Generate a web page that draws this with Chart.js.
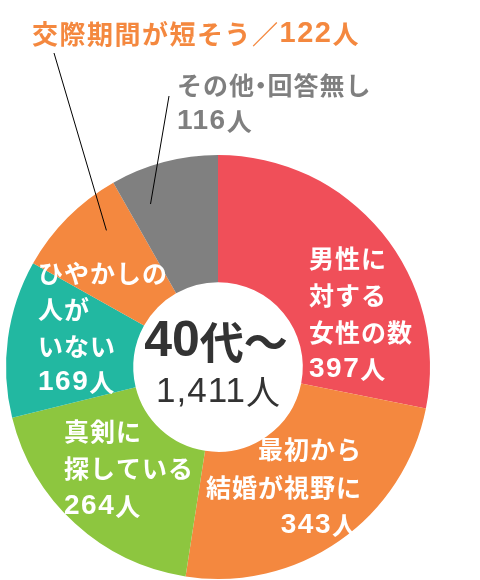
<!DOCTYPE html>
<html lang="ja">
<head>
<meta charset="utf-8">
<title>40代〜 1,411人</title>
<script src="https://cdn.jsdelivr.net/npm/chart.js@4/dist/chart.umd.min.js"></script>
<style>
  html, body { margin: 0; padding: 0; background: #fff; }
  #wrap { position: relative; width: 480px; height: 580px; }
</style>
</head>
<body>
<div id="wrap"><canvas id="c" width="480" height="580"></canvas></div>
<script>
// Survey breakdown, clockwise from the top
const categories = [
  ['男性に', '対する', '女性の数'],
  ['最初から', '結婚が視野に'],
  ['真剣に', '探している'],
  ['ひやかしの', '人が', 'いない'],
  ['交際期間が短そう'],
  ['その他・回答無し']
];
const counts = [397, 343, 264, 169, 122, 116];
const sliceColors = ['#F04F59', '#F4883F', '#8DC63F', '#22B8A1', '#F4883F', '#808080'];
const centerTitle = '40代〜';
const totalLabel = '1,411人';

const CJK = '"Noto Sans CJK JP", sans-serif';
const LATIN = '"Liberation Sans", "Noto Sans CJK JP", sans-serif';

// Label placement for each slice: offsets from the doughnut centre
const labelLayout = [
  { x: 91,  y: -109, dy: 37, align: 'left',  color: '#fff' },
  { x: 144, y: 82,   dy: 38, align: 'right', color: '#fff', lastX: 140 },
  { x: -154, y: 64,  dy: 37.5, align: 'left', color: '#fff' },
  { x: -180, y: -94, dy: 36.5, align: 'left', color: '#fff' },
  { x: -186, y: -333, align: 'left', color: '#F4883F', inline: '／', lead: 0.69 },
  { x: -41, y: -282, dy: 36, align: 'left', color: '#7F7F7F', lead: 0.24 }
];

function setSpacing(ctx, px) {
  if ('letterSpacing' in ctx) ctx.letterSpacing = px + 'px';
}

// Split a string into runs: digits/commas, a narrow middle dot, everything else
function runs(text) {
  return text.match(/[0-9,]+|・|[^0-9,・]+/g) || [];
}

// Draw text with larger Latin digits and a tight middle dot
function drawRich(ctx, text, x, y, align, o) {
  const parts = runs(text).map(t => {
    let font, sp = o.spacing, w;
    if (/^[0-9,]+$/.test(t)) { font = o.weight + ' ' + o.digitSize + 'px ' + LATIN; sp = o.digitSpacing; }
    else font = o.weight + ' ' + o.size + 'px ' + CJK;
    ctx.font = font;
    setSpacing(ctx, sp);
    w = ctx.measureText(t).width;
    if (t === '・') w = o.size * 0.5;
    return { t, font, sp, w };
  });
  const total = parts.reduce((s, p) => s + p.w, 0);
  let px = align === 'right' ? x - total : align === 'center' ? x - total / 2 : x;
  ctx.textAlign = 'left';
  parts.forEach(p => {
    ctx.font = p.font;
    setSpacing(ctx, p.sp);
    if (p.t === '・') {
      ctx.textAlign = 'center';
      ctx.fillText(p.t, px + p.w / 2, y);
      ctx.textAlign = 'left';
    } else {
      ctx.fillText(p.t, px, y);
    }
    px += p.w;
  });
}

const labelPlugin = {
  id: 'sliceLabels',
  afterDatasetsDraw(chart) {
    const ctx = chart.ctx;
    const meta = chart.getDatasetMeta(0);
    const first = meta.data[0];
    const cx = first.x, cy = first.y;
    const outer = first.outerRadius, inner = first.innerRadius;

    ctx.save();
    ctx.textBaseline = 'middle';

    const labelStyle = { weight: 700, size: 25, spacing: 1, digitSize: 28, digitSpacing: 1.5 };

    labelLayout.forEach((lay, i) => {
      const arc = meta.data[i];
      const lines = categories[i].slice();
      const valueText = counts[i] + '人';

      // leader line from the outside label into its slice
      if (lay.lead !== undefined) {
        const a = arc.startAngle + (arc.endAngle - arc.startAngle) * lay.lead;
        const r = inner + (outer - inner) * 0.72;
        const ex = cx + Math.cos(a) * r, ey = cy + Math.sin(a) * r;
        let sx, sy;
        if (i === 4) { sx = cx - 164; sy = cy - 314; }
        else { sx = cx - 49; sy = cy - 271; }
        ctx.strokeStyle = '#000';
        ctx.lineWidth = 1;
        ctx.beginPath();
        ctx.moveTo(sx, sy);
        ctx.lineTo(ex, ey);
        ctx.stroke();
      }

      ctx.fillStyle = lay.color;

      if (lay.inline) {
        drawRich(ctx, lines[0] + lay.inline + valueText, cx + lay.x, cy + lay.y, 'left',
          { weight: 700, size: 26, spacing: 1.5, digitSize: 29, digitSpacing: 1.5 });
        return;
      }
      lines.push(valueText);
      lines.forEach((t, k) => {
        const isLast = k === lines.length - 1;
        const x = cx + (isLast && lay.lastX !== undefined ? lay.lastX : lay.x);
        drawRich(ctx, t, x, cy + lay.y + k * lay.dy, lay.align, labelStyle);
      });
    });

    // centre caption
    ctx.fillStyle = '#333';
    drawRich(ctx, centerTitle, cx - 2, cy - 25, 'center',
      { weight: 700, size: 44, spacing: 0, digitSize: 50, digitSpacing: 0 });
    drawRich(ctx, totalLabel, cx, cy + 25, 'center',
      { weight: 400, size: 34, spacing: 0, digitSize: 35, digitSpacing: 1 });
    ctx.restore();
  }
};

new Chart(document.getElementById('c'), {
  type: 'doughnut',
  data: {
    labels: categories.map(c => c.join('')),
    datasets: [{
      data: counts,
      backgroundColor: sliceColors,
      borderWidth: 0,
      hoverOffset: 0
    }]
  },
  options: {
    responsive: false,
    animation: false,
    cutout: '40%',
    layout: { padding: { left: 6, right: 50, top: 155, bottom: 1 } },
    plugins: {
      legend: { display: false },
      tooltip: { enabled: false }
    },
    events: []
  },
  plugins: [labelPlugin]
});
</script>
</body>
</html>
